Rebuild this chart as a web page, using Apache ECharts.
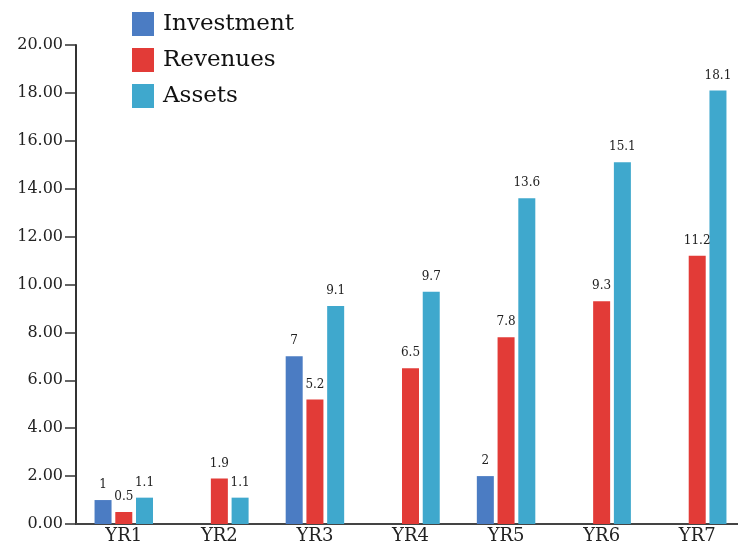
<!DOCTYPE html>
<html>
<head>
<meta charset="utf-8">
<script src="https://cdn.jsdelivr.net/npm/echarts@6/dist/echarts.min.js"></script>
<style>
  html, body { margin: 0; padding: 0; background: #fff; }
  #chart { width: 738px; height: 544px; }
</style>
</head>
<body>
<div id="chart"></div>
<script>
// Yearly figures per category
const categories = ['YR1', 'YR2', 'YR3', 'YR4', 'YR5', 'YR6', 'YR7'];
const investment = [1, null, 7, null, 2, null, null];
const revenues = [0.5, 1.9, 5.2, 6.5, 7.8, 9.3, 11.2];
const assets = [1.1, 1.1, 9.1, 9.7, 13.6, 15.1, 18.1];
const yTicks = [0, 2, 4, 6, 8, 10, 12, 14, 16, 18, 20];

const serif = 'DejaVu Serif';

const labelStyle = {
  show: true,
  position: 'top',
  distance: 9,
  fontFamily: serif,
  fontSize: 12,
  color: '#222'
};

function barSeries(name, data, color) {
  return {
    name: name,
    type: 'bar',
    data: data,
    barWidth: 17,
    barGap: '22%',
    itemStyle: { color: color },
    label: labelStyle
  };
}

const chart = echarts.init(document.getElementById('chart'));
chart.setOption({
  animation: false,
  backgroundColor: '#fff',
  legend: {
    orient: 'vertical',
    left: 127,
    top: 7,
    itemWidth: 22,
    itemHeight: 24,
    itemGap: 12,
    icon: 'rect',
    textStyle: { fontFamily: serif, fontSize: 23, color: '#111', padding: [0, 0, 0, 4] },
    data: ['Investment', 'Revenues', 'Assets']
  },
  grid: { left: 76, right: -7, top: 45, bottom: 20, outerBoundsMode: 'none' },
  xAxis: {
    type: 'category',
    data: categories,
    axisLine: { lineStyle: { color: '#444', width: 2 } },
    axisTick: { show: false },
    axisLabel: { fontFamily: serif, fontSize: 18, color: '#222', margin: 3 }
  },
  yAxis: {
    type: 'value',
    min: yTicks[0],
    max: yTicks[yTicks.length - 1],
    interval: 2,
    axisLine: { show: true, lineStyle: { color: '#333', width: 2 } },
    axisTick: { show: true, length: 11, lineStyle: { color: '#333', width: 1.5 } },
    splitLine: { show: false },
    axisLabel: {
      fontFamily: serif,
      fontSize: 16,
      color: '#222',
      margin: 13,
      formatter: v => v.toFixed(2)
    }
  },
  series: [
    barSeries('Investment', investment, '#4b7cc3'),
    barSeries('Revenues', revenues, '#e23b37'),
    barSeries('Assets', assets, '#3fa8cd')
  ]
});
</script>
</body>
</html>
